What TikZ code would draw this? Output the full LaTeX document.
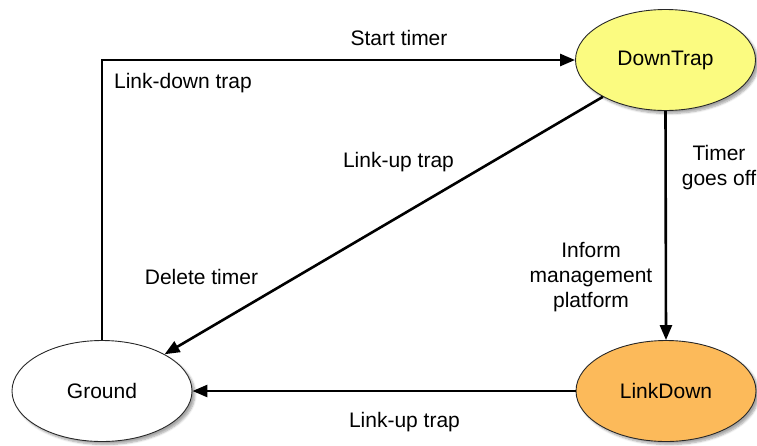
\documentclass[tikz,border=0pt]{standalone}
\usepackage{fontspec}
\setmainfont{Liberation Sans}
\usetikzlibrary{shapes.geometric,arrows.meta,shadows.blur}
\definecolor{trapyellow}{RGB}{251,251,128}
\definecolor{downorange}{RGB}{252,186,90}
\definecolor{rim}{RGB}{40,40,40}
\tikzset{
  state/.style={ellipse, draw=rim, line width=0.9pt, inner sep=0pt,
    minimum width=180pt, minimum height=101pt,
    font=\fontsize{21}{25}\selectfont,
    blur shadow={shadow xshift=3pt, shadow yshift=-3pt, shadow blur steps=6, shadow opacity=35}},
  flow/.style={line width=2.6pt, draw=black,
    -{Triangle[length=15pt,width=12pt]}},
  lbl/.style={font=\fontsize{21}{25}\selectfont, align=center, inner sep=0pt}
}
\begin{document}
\begin{tikzpicture}[x=1pt,y=-1pt]
  \useasboundingbox (0,0) rectangle (757,445);
  \node[state, fill=trapyellow] (downtrap) at (665.5,60) {DownTrap};
  \node[state, fill=downorange] (linkdown) at (666,391) {LinkDown};
  \node[state, fill=white] (ground) at (102,391) {Ground};

  \draw[flow] (ground.north) |- (downtrap.west);
  \draw[flow] (downtrap) -- (ground);
  \draw[flow] (downtrap.south) -- (linkdown.north);
  \draw[flow] (linkdown.west) -- (ground.east);

  \node[lbl] (l1) at (399,38) {Start timer};
  \node[lbl] (l2) at (183,83) {Link-down trap};
  \node[lbl] (l3) at (398.5,162) {Link-up trap};
  \node[lbl] (l4) at (201.5,277) {Delete timer};
  \node[lbl] (l5) at (719,168) {Timer\\goes off};
  \node[lbl] (l6) at (591,277) {Inform\\management\\platform};
  \node[lbl] (l7) at (404.5,422) {Link-up trap};
\end{tikzpicture}
\end{document}
